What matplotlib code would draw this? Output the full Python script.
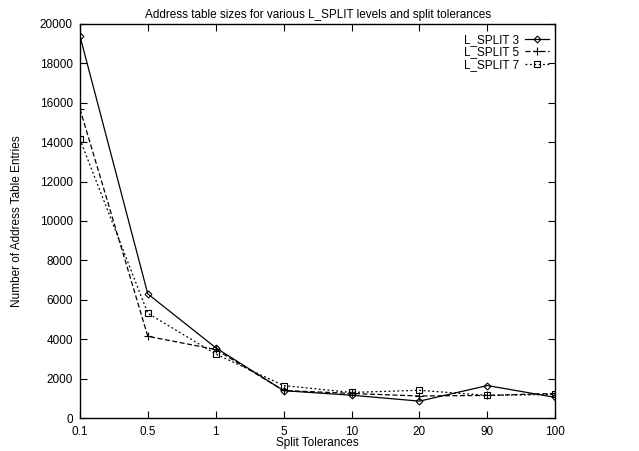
import matplotlib
matplotlib.use("Agg")
import matplotlib.pyplot as plt

plt.rcParams['font.family'] = ['Liberation Sans', 'DejaVu Sans']

# x categories (split tolerances)
tolerances = ["0.1", "0.5", "1", "5", "10", "20", "90", "100"]

# entries per L_SPLIT level
lsplit3 = [19400, 6300, 3570, 1390, 1160, 860, 1650, 1050]
lsplit5 = [15700, 4150, 3480, 1400, 1250, 1120, 1150, 1250]
lsplit7 = [14150, 5320, 3250, 1650, 1300, 1410, 1150, 1200]

x = list(range(len(tolerances)))

fig = plt.figure(figsize=(6.39, 4.51), dpi=100)
ax = fig.add_axes([0.125, 0.073, 0.744, 0.874])

ax.plot(x, lsplit3, color="black", lw=0.9, ls="-", marker="D", ms=3.5,
        mfc="none", mew=0.8, label="L_SPLIT 3")
ax.plot(x, lsplit5, color="black", lw=0.9, ls=(0, (4, 2)), marker="+", ms=6,
        mew=0.8, label="L_SPLIT 5")
ax.plot(x, lsplit7, color="black", lw=0.9, ls=(0, (1.5, 2)), marker="s", ms=4.5,
        mfc="none", mew=0.8, label="L_SPLIT 7")

ax.set_xlim(0, len(tolerances) - 1)
ax.set_ylim(0, 20000)
ax.set_xticks(x)
ax.set_xticklabels(tolerances)
ax.set_yticks(range(0, 20001, 2000))
ax.tick_params(direction="in", length=5, top=True, right=True, labelsize=8.5, width=0.8)
ax.tick_params(axis="x", pad=6)
ax.tick_params(axis="y", pad=5)
for s in ax.spines.values():
    s.set_linewidth(1.0)

ax.set_title("Address table sizes for various L_SPLIT levels and split tolerances",
             fontsize=8.5, pad=4)
ax.set_xlabel("Split Tolerances", fontsize=8.5, labelpad=-1)
ax.set_ylabel("Number of Address Table Entries", fontsize=8.5, labelpad=12)

ax.legend(loc="upper right", frameon=False, markerfirst=False, fontsize=8.5,
          handlelength=2.0, handletextpad=0.5, labelspacing=0.05,
          borderpad=0, borderaxespad=0, bbox_to_anchor=(0.986, 0.975))

fig.savefig("out.png", dpi=100)
